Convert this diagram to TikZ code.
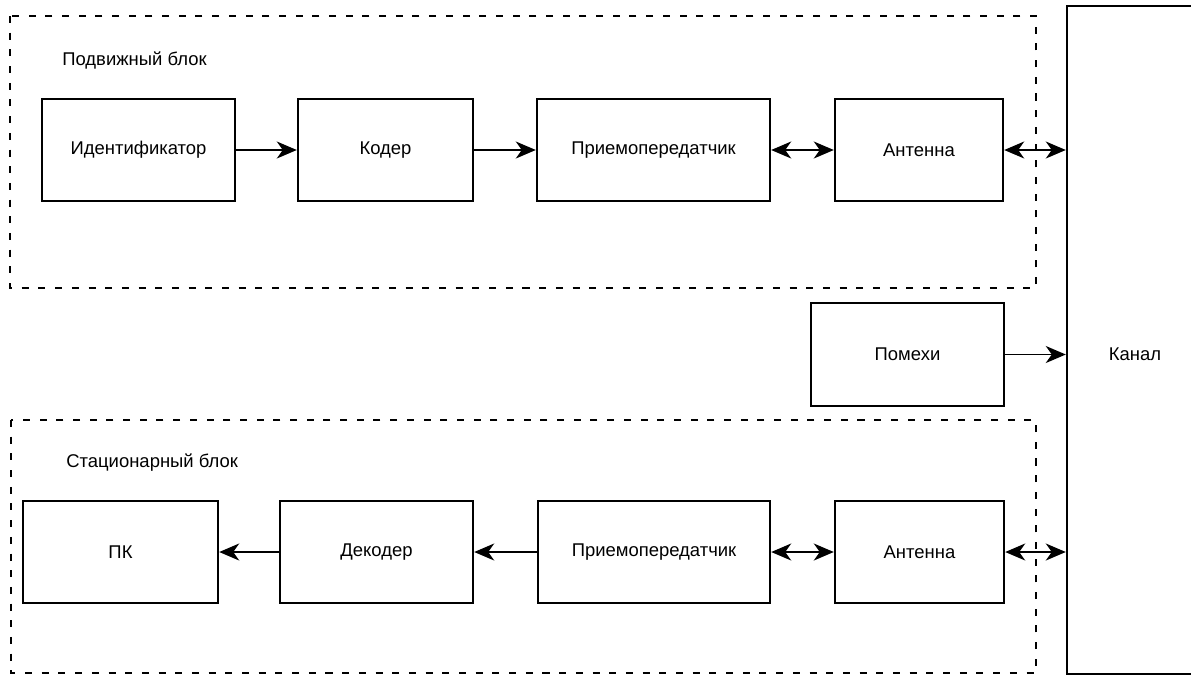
\documentclass[tikz,border=0pt]{standalone}
\usepackage{fontspec}
\setmainfont{Liberation Sans}
\usetikzlibrary{arrows.meta,positioning}
\tikzset{
  blk/.style={draw,line width=1.4pt,minimum height=2.04cm,inner sep=0pt,font=\fontsize{10.5}{12}\selectfont},
  lbl/.style={inner sep=0pt,font=\fontsize{10.5}{12}\selectfont},
  grp/.style={line width=1.5pt,dash pattern=on 4pt off 5.5pt},
  ar/.style={-{Stealth[length=4mm,width=3.4mm,inset=1.2mm]},line width=1pt},
  dar/.style={{Stealth[length=4mm,width=3.4mm,inset=1.2mm]}-{Stealth[length=4mm,width=3.4mm,inset=1.2mm]},line width=1pt}
}
\begin{document}
\begin{tikzpicture}[x=0.02cm,y=-0.02cm]
\useasboundingbox (0,0) rectangle (1191,677);
\clip (0,0) rectangle (1191,677);
% mobile unit
\draw[grp] (10,16) rectangle (1036,288);
\node[lbl,anchor=west] (mobtitle) at (62,60) {Подвижный блок};
\node[blk,minimum width=3.86cm] (ident) at (138.5,150) {Идентификатор};
\node[blk,minimum width=3.5cm] (coder) at (385.5,150) {Кодер};
\node[blk,minimum width=4.66cm] (trxa) at (653.5,150) {Приемопередатчик};
\node[blk,minimum width=3.36cm] (anta) at (919,150) {Антенна};
% stationary unit
\draw[grp] (11,420) rectangle (1036,673);
\node[lbl,anchor=west] (stattitle) at (66,463) {Стационарный блок};
\node[blk,minimum width=3.9cm] (pc) at (120.5,552) {ПК};
\node[blk,minimum width=3.86cm] (decoder) at (376.5,552) {Декодер};
\node[blk,minimum width=4.64cm] (trxb) at (654,552) {Приемопередатчик};
\node[blk,minimum width=3.38cm] (antb) at (919.5,552) {Антенна};
% noise and channel
\node[blk,minimum width=3.86cm,minimum height=2.06cm] (noise) at (907.5,354.5) {Помехи};
\node[blk,minimum width=3.06cm,minimum height=13.36cm] (chan) at (1143.5,340) {};
\node[lbl] (chanlbl) at (1135,354) {Канал};
% links
\draw[ar] (ident) -- (coder);
\draw[ar] (coder) -- (trxa);
\draw[dar] (trxa) -- (anta);
\draw[dar] (anta.east) -- (anta.east -| chan.west);
\draw[ar] (noise.east) -- (noise.east -| chan.west);
\draw[ar] (decoder) -- (pc);
\draw[ar] (trxb) -- (decoder);
\draw[dar] (trxb) -- (antb);
\draw[dar] (antb.east) -- (antb.east -| chan.west);
\end{tikzpicture}
\end{document}
